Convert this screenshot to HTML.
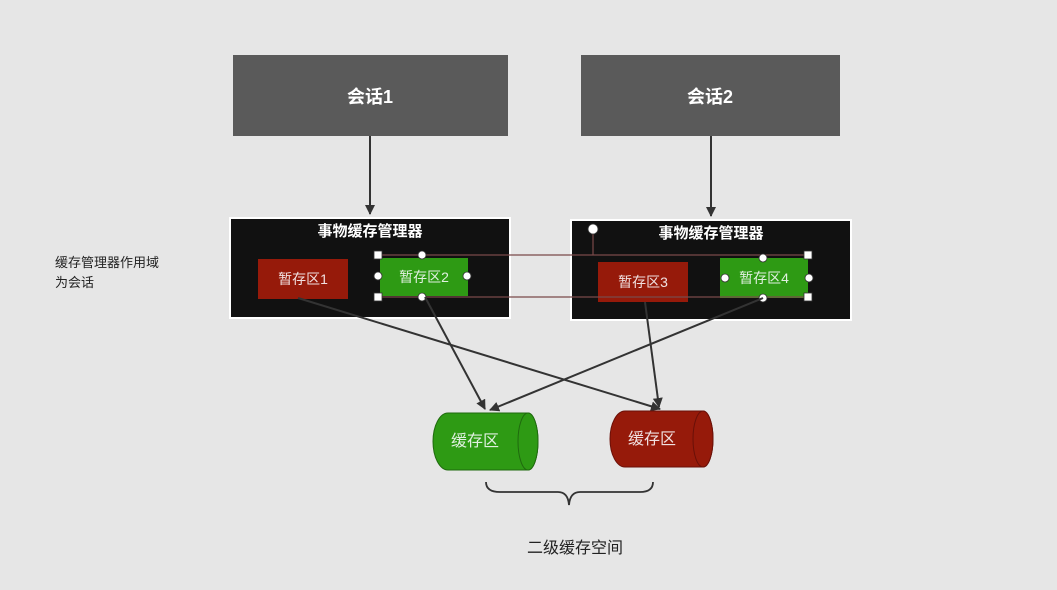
<!DOCTYPE html>
<html><head><meta charset="utf-8"><style>
html,body{margin:0;padding:0;background:#e6e6e6;}
svg{display:block;font-family:"Liberation Sans","Noto Sans CJK SC",sans-serif;}
</style></head><body>
<svg width="1057" height="590" viewBox="0 0 1057 590">
<defs><marker id="a" markerWidth="10" markerHeight="10" refX="9" refY="5" orient="auto" markerUnits="userSpaceOnUse"><path d="M0,0 L10,5 L0,10 z" fill="#333"/></marker></defs>
<rect width="1057" height="590" fill="#e6e6e6"/>
<rect x="233" y="55" width="275" height="81" fill="#5a5a5a"/>
<rect x="581" y="55" width="259" height="81" fill="#5a5a5a"/>
<text x="370" y="103" fill="#fff" font-size="18" font-weight="bold" text-anchor="middle">会话1</text>
<text x="710" y="103" fill="#fff" font-size="18" font-weight="bold" text-anchor="middle">会话2</text>
<line x1="370" y1="136" x2="370" y2="214" stroke="#333" stroke-width="2" marker-end="url(#a)"/>
<line x1="711" y1="136" x2="711" y2="216" stroke="#333" stroke-width="2" marker-end="url(#a)"/>
<rect x="230" y="218" width="280" height="100" fill="#111" stroke="#fff" stroke-width="2"/>
<rect x="571" y="220" width="280" height="100" fill="#111" stroke="#fff" stroke-width="2"/>
<text x="370" y="236" fill="#fff" font-size="15" font-weight="bold" text-anchor="middle">事物缓存管理器</text>
<text x="711" y="238" fill="#fff" font-size="15" font-weight="bold" text-anchor="middle">事物缓存管理器</text>
<text x="55" y="267" fill="#222" font-size="13">缓存管理器作用域</text>
<text x="55" y="287" fill="#222" font-size="13">为会话</text>
<rect x="258" y="259" width="90" height="40" fill="#961a0a"/>
<rect x="380" y="258" width="88" height="38" fill="#2e9a14"/>
<rect x="598" y="262" width="90" height="40" fill="#961a0a"/>
<rect x="720" y="258" width="88" height="40" fill="#2e9a14"/>
<text x="303" y="284" fill="#f0e0e0" font-size="14" text-anchor="middle">暂存区1</text>
<text x="424" y="282" fill="#e0f0e0" font-size="14" text-anchor="middle">暂存区2</text>
<text x="643" y="287" fill="#f0e0e0" font-size="14" text-anchor="middle">暂存区3</text>
<text x="764" y="283" fill="#e0f0e0" font-size="14" text-anchor="middle">暂存区4</text>
<g stroke="#7a4a4a" stroke-width="1.2" fill="none">
<line x1="378" y1="255" x2="808" y2="255"/><line x1="378" y1="297" x2="808" y2="297"/>
<line x1="593" y1="229" x2="593" y2="255"/>
</g>
<g fill="#fff" stroke="#333" stroke-width="0.8">
<rect x="374" y="251" width="8" height="8"/><rect x="374" y="293" width="8" height="8"/>
<rect x="804" y="251" width="8" height="8"/><rect x="804" y="293" width="8" height="8"/>
<circle cx="422" cy="255" r="4"/><circle cx="422" cy="297" r="4"/><circle cx="378" cy="276" r="4"/><circle cx="467" cy="276" r="4"/>
<circle cx="763" cy="258" r="4"/><circle cx="763" cy="298" r="4"/><circle cx="725" cy="278" r="4"/><circle cx="809" cy="278" r="4"/>
<circle cx="593" cy="229" r="5"/>
</g>
<g stroke="#333" stroke-width="2" marker-end="url(#a)">
<line x1="298" y1="298" x2="660" y2="409"/>
<line x1="425" y1="297" x2="485" y2="409"/>
<line x1="645" y1="302" x2="659" y2="407"/>
<line x1="763" y1="298" x2="490" y2="410"/>
</g>
<path d="M448,413 H528 A10,28.5 0 0 1 528,470 H448 A15,28.5 0 0 1 448,413 z" fill="#2e9a14" stroke="#1f6a0e"/>
<ellipse cx="528" cy="441.5" rx="10" ry="28.5" fill="#2e9a14" stroke="#1f6a0e"/>
<text x="475" y="446" fill="#e0f0e0" font-size="16" text-anchor="middle">缓存区</text>
<path d="M625,411 H703 A10,28 0 0 1 703,467 H625 A15,28 0 0 1 625,411 z" fill="#961a0a" stroke="#6a1008"/>
<ellipse cx="703" cy="439" rx="10" ry="28" fill="#961a0a" stroke="#6a1008"/>
<text x="652" y="444" fill="#f0e0e0" font-size="16" text-anchor="middle">缓存区</text>
<path d="M486,482 Q486,492 500,492 H558 Q568,492 569,505 Q570,492 580,492 H640 Q653,492 653,482" fill="none" stroke="#333" stroke-width="1.8"/>
<text x="575" y="553" fill="#222" font-size="16" text-anchor="middle">二级缓存空间</text>
</svg>
</body></html>
